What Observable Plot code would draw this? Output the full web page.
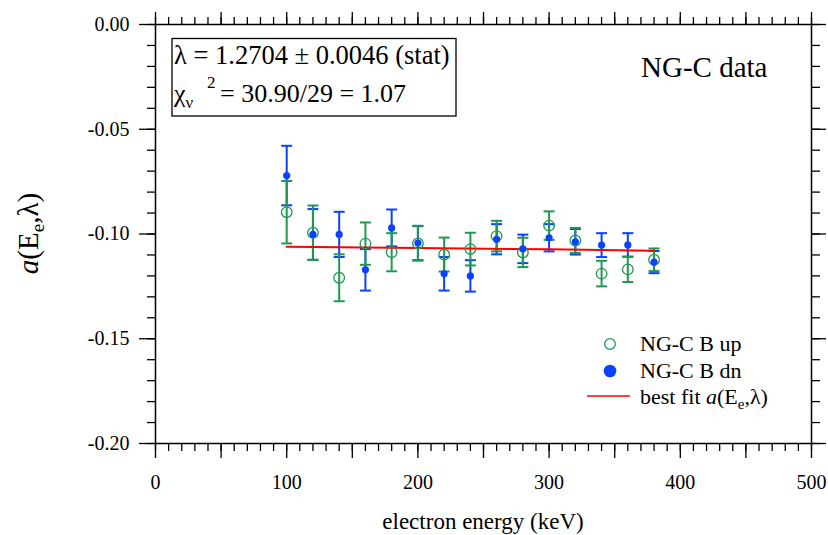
<!DOCTYPE html>
<html><head><meta charset="utf-8">
<script src="https://cdn.jsdelivr.net/npm/d3@7"></script>
<script src="https://cdn.jsdelivr.net/npm/@observablehq/plot@0.6"></script>
<style>
body{margin:0;background:#fff}
#chart{width:828px;height:535px}
</style>
</head><body><div id="chart"></div>
<script>
// ---- data ----
const energies = [100,120,140,160,180,200,220,240,260,280,300,320,340,360,380];
const upValues = [-0.0896,-0.0994,-0.1209,-0.1046,-0.1087,-0.1045,-0.1098,-0.1072,-0.1010,-0.1088,-0.0960,-0.1031,-0.1189,-0.1169,-0.1123];
const upErrors = [0.0149,0.0130,0.0112,0.0101,0.0091,0.0082,0.0081,0.0078,0.0073,0.0070,0.0068,0.0060,0.0061,0.0060,0.0054];
const dnValues = [-0.0721,-0.1002,-0.1002,-0.1171,-0.0971,-0.1043,-0.1190,-0.1200,-0.1025,-0.1071,-0.1018,-0.1037,-0.1053,-0.1052,-0.1134];
const dnErrors = [0.0142,0.0121,0.0108,0.0099,0.0088,0.0082,0.0080,0.0075,0.0072,0.0068,0.0065,0.0061,0.0057,0.0056,0.0053];
const fitEnergies = [100,200,300,380];
const fitValues = [-0.1061,-0.1067,-0.1073,-0.1080];
const xLabelTicks = [0,100,200,300,400,500];
const yLabelTicks = [0,-0.05,-0.10,-0.15,-0.20];
const seriesNames = ["NG-C B up","NG-C B dn"];

const GREEN = "#1e9a50", BLUE = "#0b41ff", RED = "#ff0000";
const FONT = "'Liberation Serif','Times New Roman',serif";

const up = energies.map((e,i)=>({e, v:upValues[i], lo:upValues[i]-upErrors[i], hi:upValues[i]+upErrors[i]}));
const dn = energies.map((e,i)=>({e, v:dnValues[i], lo:dnValues[i]-dnErrors[i], hi:dnValues[i]+dnErrors[i]}));
const fit = fitEnergies.map((e,i)=>({e, v:fitValues[i]}));

const xMinor = d3.range(0, 501, 10), xMajor = d3.range(0, 501, 50);
const yMinor = d3.range(-20, 1, 1).map(d=>d/100), yMajor = d3.range(-20, 1, 5).map(d=>d/100);

const cap = {draw(ctx, size){ const w = Math.sqrt(size/Math.PI); ctx.moveTo(-w,0); ctx.lineTo(w,0); }};

const tickStyle = {fill:"none", label:null, strokeWidth:1.3, stroke:"black"};

function errorMarks(data, color){
  return [
    Plot.ruleX(data, {x:"e", y1:"lo", y2:"hi", stroke:color, strokeWidth:2}),
    Plot.dot(data, {x:"e", y:"lo", symbol:cap, r:5.5, stroke:color, strokeWidth:2, fill:"none"}),
    Plot.dot(data, {x:"e", y:"hi", symbol:cap, r:5.5, stroke:color, strokeWidth:2, fill:"none"})
  ];
}

const svg = Plot.plot({
  width: 828, height: 535,
  marginLeft: 155, marginRight: 17, marginTop: 24, marginBottom: 92,
  style: {fontFamily: FONT, background: "white", color: "black"},
  x: {domain: [0, 500], label: null},
  y: {domain: [-0.20, 0.00], label: null},
  marks: [
    Plot.axisX(xMinor, {anchor:"bottom", tickSize:8, ...tickStyle}),
    Plot.axisX(xMajor, {anchor:"bottom", tickSize:15, ...tickStyle}),
    Plot.axisX(xMinor, {anchor:"top", tickSize:8, ...tickStyle}),
    Plot.axisX(xMajor, {anchor:"top", tickSize:13, ...tickStyle}),
    Plot.axisY(yMinor, {anchor:"left", tickSize:8, ...tickStyle}),
    Plot.axisY(yMajor, {anchor:"left", tickSize:16, ...tickStyle}),
    Plot.axisY(yMinor, {anchor:"right", tickSize:8, ...tickStyle}),
    Plot.axisY(yMajor, {anchor:"right", tickSize:14, ...tickStyle}),
    Plot.axisX(xLabelTicks, {anchor:"bottom", tickSize:0, tickPadding:31, fontSize:20, label:null, tickFormat:d=>String(d)}),
    Plot.axisY(yLabelTicks, {anchor:"left", tickSize:0, tickPadding:26, fontSize:20, label:null, tickFormat:d=>d.toFixed(2)}),
    Plot.frame({stroke:"black", strokeWidth:1.5}),
    ...errorMarks(dn, BLUE),
    ...errorMarks(up, GREEN),
    Plot.line(fit, {x:"e", y:"v", stroke:RED, strokeWidth:2}),
    Plot.dot(up, {x:"e", y:"v", r:5.3, stroke:GREEN, strokeWidth:1.3, fill:"none"}),
    Plot.dot(dn, {x:"e", y:"v", r:3.6, fill:BLUE, stroke:"none"})
  ]
});

const s = d3.select(svg);
const g = s.append("g");
function txt(x, y, size, anchor){
  return g.append("text").attr("x", x).attr("y", y)
    .style("font-family", FONT).style("font-size", size + "px")
    .attr("text-anchor", anchor || "start").attr("fill", "black");
}

// axis titles
txt(483, 529, 23, "middle").text("electron energy (keV)");
const yt = g.append("text").attr("transform","translate(38,233.5) rotate(-90)")
  .attr("text-anchor","middle").style("font-family",FONT).style("font-size","29px").attr("fill","black");
yt.append("tspan").style("font-style","italic").text("a");
yt.append("tspan").text("(E");
yt.append("tspan").style("font-size","19px").attr("dy",6).text("e");
yt.append("tspan").attr("dy",-6).text(",λ)");

// fit-result box
g.append("rect").attr("x",172).attr("y",38.5).attr("width",284).attr("height",77.5).attr("fill","white").attr("stroke","black").attr("stroke-width",1.3);
txt(174, 64, 26.5).text("λ = 1.2704 ± 0.0046 (stat)");
const chi = txt(174, 102, 26);
chi.append("tspan").text("χ");
chi.append("tspan").style("font-size","17px").attr("dy",6).text("ν");
chi.append("tspan").style("font-size","17px").attr("x",207).attr("dy",-20).text("2");
chi.append("tspan").attr("x",220).attr("dy",14).text("= 30.90/29 = 1.07");

// NG-C data
txt(641, 77, 29).text("NG-C data");

// legend
g.append("circle").attr("cx",610).attr("cy",344).attr("r",5.3).attr("fill","none").attr("stroke",GREEN).attr("stroke-width",1.3);
txt(640, 351, 22).text(seriesNames[0]);
g.append("circle").attr("cx",610).attr("cy",371).attr("r",6.3).attr("fill",BLUE);
txt(640, 377.5, 22).text(seriesNames[1]);
g.append("line").attr("x1",587).attr("x2",630).attr("y1",396).attr("y2",396).attr("stroke",RED).attr("stroke-width",1.5);
const bf = txt(640, 403.5, 22);
bf.append("tspan").text("best fit ");
bf.append("tspan").style("font-style","italic").text("a");
bf.append("tspan").text("(E");
bf.append("tspan").style("font-size","15px").attr("dy",5).text("e");
bf.append("tspan").attr("dy",-5).text(",λ)");

document.getElementById("chart").appendChild(svg);
</script>
</body></html>
